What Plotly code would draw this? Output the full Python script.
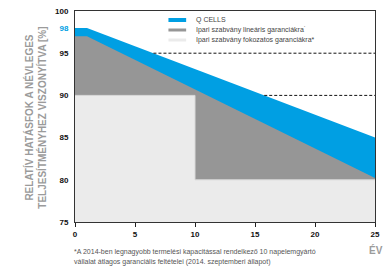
import numpy as np
import plotly.graph_objects as go

# ---- data ----
years = [0, 1, 25]
qcells = [98, 98, 85]
linear_std = [97, 97, 80.2]
step_years = [0, 10, 10, 25]
step_std = [90, 90, 80, 80]
dash_levels = [95, 90]
x_ticks = [0, 5, 10, 15, 20, 25]
y_ticks = [75, 80, 85, 90, 95, 98, 100]
series_names = ["Q CELLS", "Ipari szabvány lineáris garanciákra˙", "Ipari szabvány fokozatos garanciákra*"]
colors = ["#009FE3", "#969696", "#EBEBEB"]
footnote = ["*A 2014-ben legnagyobb termelési kapacitással rendelkező 10 napelemgyártó",
            "vállalat átlagos garanciális feltételei (2014. szeptemberi állapot)"]

W, H = 385, 266
# plot area in page pixels: left 75, right 380, top 11, bottom 222
L, T = 75, 11
R = W - 380
B = H - 222
PW, PH = W - L - R, H - T - B


def px(xs):
    return (xs - L) / PW


def py(ys):
    return (H - B - ys) / PH


fig = go.Figure()
fig.add_trace(go.Scatter(x=years, y=qcells, fill="tozeroy", mode="lines",
                         line=dict(color=colors[0], width=0), fillcolor=colors[0],
                         showlegend=False, hoverinfo="skip"))
fig.add_trace(go.Scatter(x=years, y=linear_std, fill="tozeroy", mode="lines",
                         line=dict(color=colors[1], width=0), fillcolor=colors[1],
                         showlegend=False, hoverinfo="skip"))
fig.add_trace(go.Scatter(x=step_years, y=step_std, fill="tozeroy", mode="lines",
                         line=dict(color="#D8D8D8", width=1), fillcolor=colors[2],
                         showlegend=False, hoverinfo="skip"))

# dashed lines from where Q CELLS crosses the level to the end
for lvl in dash_levels:
    xs = np.interp(lvl, qcells[::-1], years[::-1])
    fig.add_trace(go.Scatter(x=[xs, years[-1]], y=[lvl, lvl], mode="lines",
                             line=dict(color="#111111", width=1, dash="3px,2px"),
                             showlegend=False, hoverinfo="skip"))

# manual legend
leg_y = [20, 30, 40]
leg_w = [4, 3, 3]
for name, c, yy, lw in zip(series_names, colors, leg_y, leg_w):
    fig.add_shape(type="line", xref="paper", yref="paper",
                  x0=px(170), x1=px(188), y0=py(yy), y1=py(yy),
                  line=dict(color=c, width=lw))
    fig.add_annotation(x=px(196), y=py(yy), xref="paper", yref="paper",
                       text=name, showarrow=False, xanchor="left", yanchor="middle",
                       font=dict(size=7, color="#444444", family="Liberation Sans"))

# y title
fig.add_annotation(x=px(34), y=py(118), xref="paper", yref="paper",
                   text="<b>RELATÍV HATÁSFOK A NÉVLEGES<br>TELJESÍTMÉNYHEZ VISZONYÍTVA [%]</b>",
                   textangle=-90, showarrow=False, xanchor="center", yanchor="middle",
                   font=dict(size=10, color="#9B9B9B", family="Liberation Sans"))

# footnote
for i, line in enumerate(footnote):
    fig.add_annotation(x=px(72), y=py(252 + 9.5 * i), xref="paper", yref="paper",
                       text=line, showarrow=False, xanchor="left", yanchor="middle",
                       font=dict(size=7, color="#555555", family="Liberation Sans"))

# ÉV label
fig.add_annotation(x=px(372), y=py(250), xref="paper", yref="paper",
                   text="<b>ÉV</b>", showarrow=False, xanchor="left", yanchor="middle",
                   font=dict(size=10, color="#9B9B9B", family="Liberation Sans"))

ytext = ["<b>%d</b>" % v if v != 98 else "<b><span style='color:#009FE3'>98</span></b>" for v in y_ticks]

fig.update_layout(
    width=W, height=H,
    margin=dict(l=L, r=R, t=T, b=B),
    paper_bgcolor="white", plot_bgcolor="white",
    showlegend=False,
    font=dict(family="Liberation Sans", color="#111111"),
    xaxis=dict(range=[0, 25], tickvals=x_ticks, ticktext=["<b>%d</b>" % v for v in x_ticks],
               ticks="outside", ticklen=4, tickcolor="#222222", tickwidth=1,
               showline=True, linecolor="#333333", linewidth=1, mirror=True,
               showgrid=False, zeroline=False, tickfont=dict(size=8, color="#111111")),
    yaxis=dict(range=[75, 100], tickvals=y_ticks, ticktext=ytext,
               ticks="", showline=True, linecolor="#333333", linewidth=1, mirror=True,
               showgrid=False, zeroline=False, ticklabelstandoff=4,
               ticklabeloverflow="allow",
               tickfont=dict(size=8, color="#111111")),
)

fig.write_html("out.html", config={"displayModeBar": False},
               post_script="document.body.style.margin='0';")
